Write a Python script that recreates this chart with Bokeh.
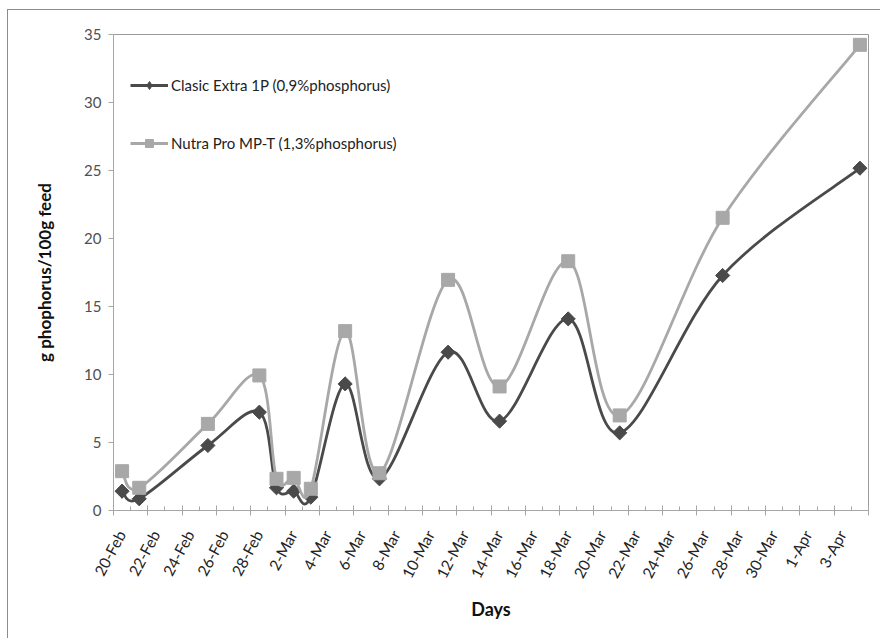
import math
from bokeh.plotting import figure
from bokeh.models import Legend, LegendItem, FixedTicker, Range1d, LinearAxis
from bokeh.embed import file_html
from bokeh.resources import INLINE

# ---- data ----
dates = ["20-Feb", "21-Feb", "25-Feb", "28-Feb", "1-Mar", "2-Mar", "3-Mar", "5-Mar",
         "7-Mar", "11-Mar", "14-Mar", "18-Mar", "21-Mar", "27-Mar", "4-Apr"]
day_index = [0, 1, 5, 8, 9, 10, 11, 13, 15, 19, 22, 26, 29, 35, 43]   # days since 20-Feb
clasic = [1.42, 0.86, 4.78, 7.23, 1.67, 1.42, 0.98, 9.31, 2.33, 11.64, 6.57, 14.09, 5.71, 17.28, 25.17]
nutra = [2.89, 1.67, 6.37, 9.93, 2.33, 2.40, 1.60, 13.19, 2.74, 16.96, 9.12, 18.33, 6.99, 21.52, 34.24]
series_names = ["Clasic Extra 1P (0,9%phosphorus)", "Nutra Pro MP-T (1,3%phosphorus)"]
tick_days = list(range(0, 43, 2))
tick_labels = ["20-Feb", "22-Feb", "24-Feb", "26-Feb", "28-Feb", "2-Mar", "4-Mar", "6-Mar",
               "8-Mar", "10-Mar", "12-Mar", "14-Mar", "16-Mar", "18-Mar", "20-Mar", "22-Mar",
               "24-Mar", "26-Mar", "28-Mar", "30-Mar", "1-Apr", "3-Apr"]
y_ticks = [0, 5, 10, 15, 20, 25, 30, 35]

FONT = "Lato"
DARK = "#4a4a4a"
LIGHT = "#a8a8a8"

# points sit in the middle of their day (date axis, between tick marks)
xs = [d + 0.5 for d in day_index]


def smooth_segments(x, y):
    """Bezier control points for an Excel-like smoothed line through the points."""
    n = len(x)
    out = {k: [] for k in ("x0", "y0", "x1", "y1", "cx0", "cy0", "cx1", "cy1")}
    for i in range(n - 1):
        xm, ym = (x[i - 1], y[i - 1]) if i > 0 else (x[i], y[i])
        xp, yp = (x[i + 2], y[i + 2]) if i + 2 < n else (x[i + 1], y[i + 1])
        out["x0"].append(x[i]); out["y0"].append(y[i])
        out["x1"].append(x[i + 1]); out["y1"].append(y[i + 1])
        out["cx0"].append(x[i] + (x[i + 1] - xm) / 6.0)
        out["cy0"].append(y[i] + (y[i + 1] - ym) / 6.0)
        out["cx1"].append(x[i + 1] - (xp - x[i]) / 6.0)
        out["cy1"].append(y[i + 1] - (yp - y[i]) / 6.0)
    return out


p = figure(width=880, height=638, output_backend="svg", toolbar_location=None,
           x_range=Range1d(0, 44), y_range=Range1d(0, 35),
           min_border_left=113, min_border_right=12, min_border_top=34, min_border_bottom=128)
p.styles = {"background": "linear-gradient(#8c8c8c,#8c8c8c) 7px 9px / 1px 100% no-repeat, "
                          "linear-gradient(#8c8c8c,#8c8c8c) 7px 9px / 100% 1px no-repeat, white"}
p.border_fill_alpha = 0
p.background_fill_color = "white"
p.outline_line_color = "#9a9a9a"
p.outline_line_width = 1
p.xgrid.visible = False
p.ygrid.visible = False

# series
seg_c = smooth_segments(xs, clasic)
r_cl = p.bezier(line_color=DARK, line_width=2.8, **seg_c)
# diamond swatch for the legend, hidden under the first real marker
leg_cl = p.scatter(xs[:1], clasic[:1], marker="diamond", size=14, fill_color=DARK, line_color=DARK)
s_cl = p.scatter(xs, clasic, marker="square", angle=math.pi / 4, size=10,
                 fill_color=DARK, line_color=DARK)
seg_n = smooth_segments(xs, nutra)
r_nu = p.bezier(line_color=LIGHT, line_width=2.8, **seg_n)
s_nu = p.scatter(xs, nutra, marker="square", size=13, fill_color=LIGHT, line_color=LIGHT)

legend = Legend(items=[LegendItem(label=series_names[0], renderers=[r_cl, leg_cl]),
                       LegendItem(label=series_names[1], renderers=[r_nu, s_nu])],
                location=(17, 357), padding=0, margin=0, spacing=38,
                glyph_width=38, glyph_height=20, label_height=20, label_standoff=3,
                border_line_alpha=0, background_fill_alpha=0,
                label_text_font=FONT, label_text_font_size="15px", label_text_color="#222222")
p.add_layout(legend)

# x axis: ticks only
xa = p.xaxis[0]
all_ticks = tick_days + [44]
xa.ticker = FixedTicker(ticks=all_ticks, minor_ticks=list(range(0, 45)))
xa.major_label_overrides = {d: "" for d in all_ticks}
xa.major_label_text_font_size = "1px"
xa.major_label_standoff = 0
xa.axis_line_color = "#a6a6a6"
xa.major_tick_line_color = "#a6a6a6"
xa.minor_tick_line_color = "#a6a6a6"
xa.major_tick_in = 5
xa.major_tick_out = 5
xa.minor_tick_in = 4
xa.minor_tick_out = 0

# x labels: second axis below, labels slightly right of their ticks as in Excel
label_pos = [d + 0.45 for d in tick_days]
xl = LinearAxis(ticker=FixedTicker(ticks=label_pos, minor_ticks=[]),
                major_label_overrides={pos: lab for pos, lab in zip(label_pos, tick_labels)},
                axis_line_color=None, major_tick_line_color=None, minor_tick_line_color=None,
                major_tick_in=0, major_tick_out=0,
                major_label_orientation=math.radians(62),
                major_label_text_font=FONT, major_label_text_font_size="15.5px",
                major_label_text_color="#222222", major_label_standoff=16,
                axis_label="Days", axis_label_text_font=FONT, axis_label_text_font_size="18px",
                axis_label_text_font_style="bold", axis_label_text_color="#111111",
                axis_label_standoff=10)
p.add_layout(xl, "below")

# y axis
ya = p.yaxis[0]
ya.ticker = FixedTicker(ticks=y_ticks, minor_ticks=[])
ya.major_label_text_font = FONT
ya.major_label_text_font_size = "15px"
ya.major_label_text_color = "#505050"
ya.major_label_standoff = 7
ya.axis_line_color = "#a6a6a6"
ya.major_tick_line_color = "#a6a6a6"
ya.major_tick_in = 0
ya.major_tick_out = 5
ya.minor_tick_line_color = None
ya.axis_label = "g phophorus/100g feed"
ya.axis_label_text_font = FONT
ya.axis_label_text_font_size = "17px"
ya.axis_label_text_font_style = "bold"
ya.axis_label_text_color = "#111111"
ya.axis_label_standoff = 26

open("out.html", "w").write(file_html(p, INLINE))
